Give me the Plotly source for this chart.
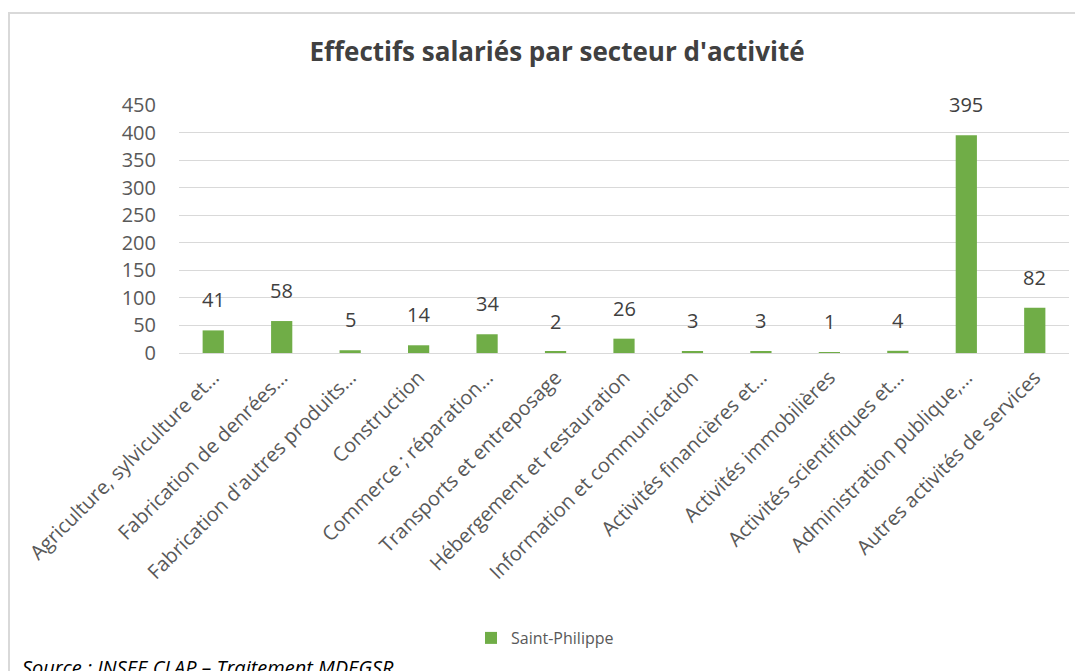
import plotly.graph_objects as go

categories = [
    "Agriculture, sylviculture et…",
    "Fabrication de denrées…",
    "Fabrication d'autres produits…",
    "Construction",
    "Commerce ; réparation…",
    "Transports et entreposage",
    "Hébergement et restauration",
    "Information et communication",
    "Activités financières et…",
    "Activités immobilières",
    "Activités scientifiques et…",
    "Administration publique,…",
    "Autres activités de services",
]
values = [41, 58, 5, 14, 34, 2, 26, 3, 3, 1, 4, 395, 82]
series_name = "Saint-Philippe"
y_ticks = [0, 50, 100, 150, 200, 250, 300, 350, 400, 450]

W, H = 1083, 671
OFF = 8  # page offset of the figure
L, R, T, B = 171, 22, 97, 326
pw, ph = W - L - R, H - T - B

def px(x):
    return (x - OFF - L) / pw

def py(y):
    return (H - B - (y - OFF)) / ph

FONT = "Open Sans"
GREY = "#595959"

fig = go.Figure()
fig.add_trace(go.Bar(
    x=categories, y=values, name=series_name,
    marker=dict(color="#70ad47", line=dict(width=0)),
    showlegend=True,
))

annotations = [
    dict(x=c, y=v, xref="x", yref="y", text=str(v), showarrow=False,
         yanchor="bottom", xanchor="center", yshift=15,
         font=dict(family=FONT, size=20, color="#404040"))
    for c, v in zip(categories, values)
]
annotations.append(dict(
    text="<i>Source : INSEE CLAP – Traitement MDEGSR</i>",
    xref="paper", yref="paper", x=px(20), y=py(652),
    xanchor="left", yanchor="top", showarrow=False,
    font=dict(family=FONT, size=20, color="#000000"),
))

fig.update_layout(
    width=W, height=H,
    margin=dict(l=L, r=R, t=T, b=B, autoexpand=False),
    paper_bgcolor="white", plot_bgcolor="white",
    bargap=0.69,
    font=dict(family=FONT, color=GREY),
    title=dict(
        text="<b>Effectifs salariés par secteur d'activité</b>",
        font=dict(family=FONT, size=26, color="#404040"),
        x=px(557), xref="paper", xanchor="center",
        y=1 - (52 - OFF) / H, yref="container", yanchor="middle",
    ),
    showlegend=True,
    legend=dict(
        orientation="h", x=px(545), xanchor="center",
        y=py(638), yanchor="middle",
        font=dict(family=FONT, size=16, color=GREY),
        bgcolor="rgba(0,0,0,0)",
    ),
    xaxis=dict(
        type="category", tickangle=-45,
        tickfont=dict(family=FONT, size=20, color=GREY),
        showgrid=False, showline=False, ticks="",
        zeroline=False, ticklabelstandoff=8,
    ),
    yaxis=dict(
        range=[0, 450], tickvals=y_ticks,
        tickfont=dict(family=FONT, size=20, color=GREY),
        showgrid=True, gridcolor="#d9d9d9", gridwidth=1,
        zeroline=True, zerolinecolor="#d9d9d9", zerolinewidth=1,
        showline=False, ticks="", ticklabelstandoff=22,
    ),
    shapes=[dict(
        type="rect", xref="paper", yref="paper",
        x0=px(9), x1=px(1100), y0=py(700), y1=py(13),
        line=dict(color="#d9d9d9", width=2), fillcolor="rgba(0,0,0,0)",
        layer="below",
    )],
    annotations=annotations,
)

fig.write_html("out.html")
